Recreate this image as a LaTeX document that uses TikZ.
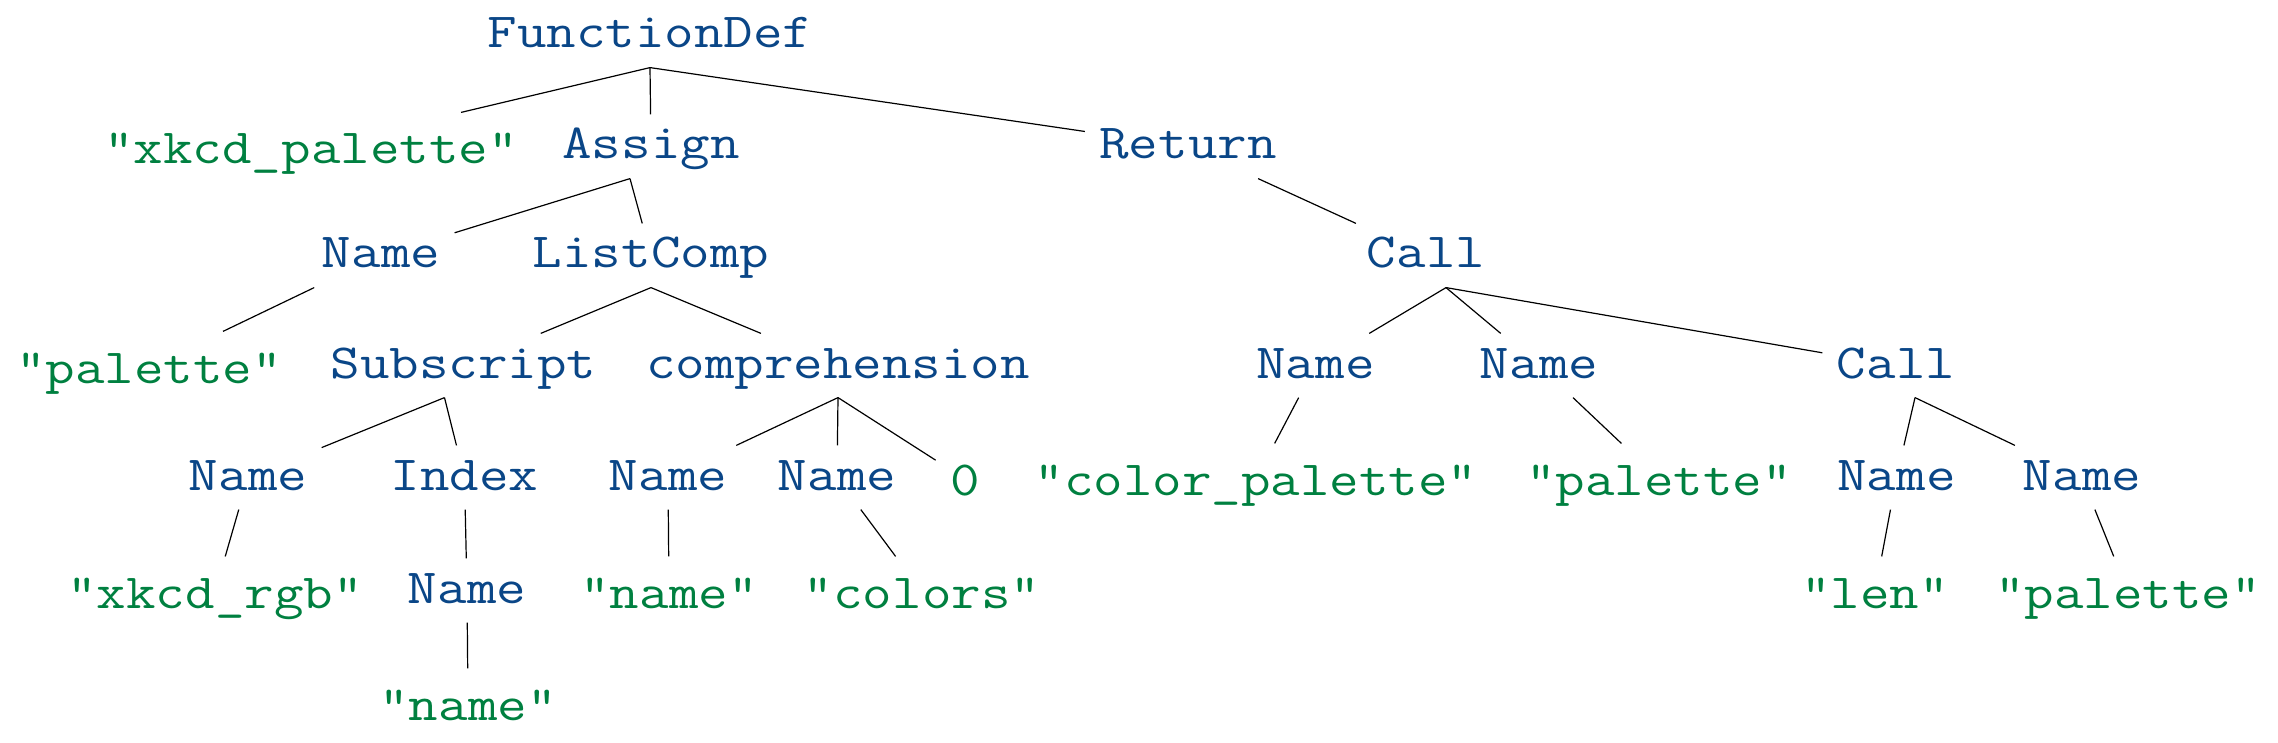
\documentclass[tikz,border=0pt]{standalone}
\usepackage{fontspec}
\setmonofont{Latin Modern Mono}[FakeStretch=1.17]
\usepackage{tikz}
\definecolor{astblue}{RGB}{10,70,135}
\definecolor{astgreen}{RGB}{0,128,64}

\begin{document}
\begin{tikzpicture}[x=1pt,y=-1pt,line width=1.2pt,
  every node/.style={anchor=base,inner sep=14pt,text depth=5pt,font=\ttfamily\fontsize{49}{60}\selectfont},
  ast/.style={text=astblue,text height=30pt},
  lit/.style={text=astgreen,text height=37pt}]
\useasboundingbox (0,0) rectangle (2278,743);
\node[ast] (fd) at (650,48) {FunctionDef};
\node[lit] (fname) at (311,164) {"xkcd\_palette"};
\node[ast] (assign) at (651,159) {Assign};
\node[ast] (ret) at (1188,159) {Return};
\node[ast] (tgt) at (381,268) {Name};
\node[ast] (lcomp) at (651,268) {ListComp};
\node[ast] (call) at (1426,268) {Call};
\node[lit] (tgtid) at (149,383) {"palette"};
\node[ast] (subs) at (463.5,378) {Subscript};
\node[ast] (comp) at (838,378) {comprehension};
\node[ast] (fnc) at (1315.5,378) {Name};
\node[ast] (arg) at (1539,378) {Name};
\node[ast] (lencall) at (1896,378) {Call};
\node[ast] (val) at (248,490) {Name};
\node[ast] (idx) at (464.5,490) {Index};
\node[ast] (elt) at (668,490) {Name};
\node[ast] (iter) at (837,490) {Name};
\node[lit] (zero) at (965,495) {0};
\node[lit] (fncid) at (1256,495) {"color\_palette"};
\node[lit] (argid) at (1659,495) {"palette"};
\node[ast] (lenfn) at (1896.5,490) {Name};
\node[ast] (lenarg) at (2082,490) {Name};
\node[lit] (valid) at (215,608) {"xkcd\_rgb"};
\node[ast] (idxname) at (467,603) {Name};
\node[lit] (eltid) at (669,608) {"name"};
\node[lit] (iterid) at (922,608) {"colors"};
\node[lit] (lenid) at (1875,608) {"len"};
\node[lit] (lenargid) at (2128,608) {"palette"};
\node[lit] (idxid) at (468,720) {"name"};
\draw (fd.south) -- (fname);
\draw (fd.south) -- (assign);
\draw (fd.south) -- (ret);
\draw ([xshift=-21pt]assign.south) -- (tgt);
\draw ([xshift=-21pt]assign.south) -- (lcomp);
\draw (ret) -- (call);
\draw (tgt) -- (tgtid);
\draw (lcomp.south) -- (subs);
\draw (lcomp.south) -- (comp);
\draw ([xshift=20pt]call.south) -- (fnc);
\draw ([xshift=20pt]call.south) -- (arg);
\draw ([xshift=20pt]call.south) -- (lencall);
\draw ([xshift=-19pt]subs.south) -- (val);
\draw ([xshift=-19pt]subs.south) -- (idx);
\draw (comp.south) -- (elt);
\draw (comp.south) -- (iter);
\draw (comp.south) -- (zero);
\draw (fnc) -- (fncid);
\draw (arg) -- (argid);
\draw ([xshift=19pt]lencall.south) -- (lenfn);
\draw ([xshift=19pt]lencall.south) -- (lenarg);
\draw (val) -- (valid);
\draw (idx) -- (idxname);
\draw (elt) -- (eltid);
\draw (iter) -- (iterid);
\draw (idxname) -- (idxid);
\draw (lenfn) -- (lenid);
\draw (lenarg) -- (lenargid);
\end{tikzpicture}
\end{document}
